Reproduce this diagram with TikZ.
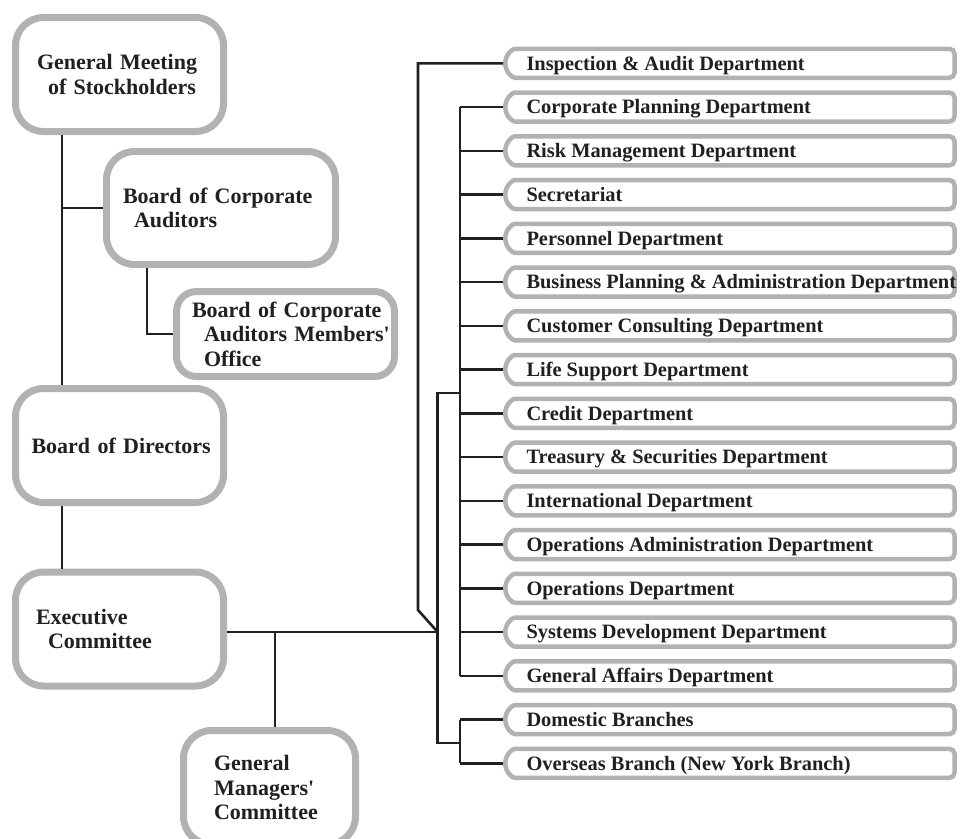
\documentclass[tikz,border=0pt]{standalone}
\usepackage{fontspec}
\setmainfont{Liberation Serif}
\usetikzlibrary{shapes.misc}
\definecolor{boxgray}{HTML}{B1B2B4}
\definecolor{inkblack}{HTML}{231F20}
\newcommand{\sq}{\XeTeXglyph\XeTeXcharglyph"27\relax}

\begin{document}
\begin{tikzpicture}[x=1pt,y=-1pt,
    unit/.style={draw=boxgray,line width=7pt,fill=white,rounded corners=28pt,align=left,
      text=inkblack,font=\fontsize{22}{24.5}\selectfont\bfseries,inner ysep=0pt},
    dept/.style={rounded rectangle,rounded rectangle right arc=none,rounded corners=5pt,
      draw=boxgray,line width=4.5pt,fill=white,minimum height=29pt,inner xsep=17pt,inner ysep=0pt,
      text height=17pt,text depth=3.5pt,text=inkblack,font=\fontsize{20.4}{22}\selectfont\bfseries,anchor=west},
    link/.style={draw=inkblack,line width=2.6pt}]
  \useasboundingbox (0,0) rectangle (960,838);

  % left column
  \node (gm) at (119.5,74.5) [unit,minimum width=208pt,minimum height=114pt,text width=165pt,inner xsep=21.5pt]
    {\mbox{General Meeting}\\\hspace*{11pt}\mbox{of Stockholders}};
  \node (bca) at (221,208) [unit,minimum width=229pt,minimum height=113pt,text width=196pt,inner xsep=16.5pt]
    {\mbox{Board of Corporate}\\\hspace*{11pt}Auditors};
  \node (bcamo) at (285.5,334) [unit,rounded corners=20pt,minimum width=218pt,minimum height=85pt,text width=187pt,inner xsep=15.5pt]
    {\mbox{Board of Corporate}\\\hspace*{12pt}\mbox{Auditors Members\sq}\\\hspace*{12pt}Office};
  \node (bod) at (119.5,445.5) [unit,minimum width=208pt,minimum height=114pt,text width=176pt,inner xsep=16pt]
    {\mbox{Board of Directors}};
  \node (ec) at (119.5,629) [unit,minimum width=208pt,minimum height=114pt,text width=167pt,inner xsep=20.5pt]
    {Executive\\\hspace*{12pt}Committee};
  \node (gmc) at (269.5,787.5) [unit,minimum width=172pt,minimum height=114pt,text width=111pt,inner xsep=30.5pt]
    {General\\Managers\sq\\Committee};

  % departments
  \foreach \t [count=\i] in {Inspection \& Audit Department,Corporate Planning Department,
      Risk Management Department,Secretariat,Personnel Department,
      Business Planning \& Administration Department,Customer Consulting Department,
      Life Support Department,Credit Department,Treasury \& Securities Department,
      International Department,Operations Administration Department,Operations Department,
      Systems Development Department,General Affairs Department,Domestic Branches,
      Overseas Branch (New York Branch)}
    \node (d\i) at (503,{63.3+43.75*(\i-1)}) [dept] {\makebox[411pt][l]{\t}};

  \coordinate (trunk) at (62,0);
  \coordinate (drop) at (147,0);
  \coordinate (hub) at (437.7,632);
  \coordinate (tap) at (275,632);
  \coordinate (kink) at (418,610);
  \coordinate (bus) at (460,0);
  \coordinate (upper) at (437.7,393);
  \coordinate (lower) at (437.7,743);

  \draw[link] (gm.south -| trunk) -- (bod.north -| trunk);
  \draw[link] (bca.west) -- (bca.west -| trunk);
  \draw[link] (bca.south -| drop) |- (bcamo.west);
  \draw[link] (bod.south -| trunk) -- (ec.north -| trunk);
  \draw[link] (hub -| ec.east) -- (hub);
  \draw[link] (tap) -- (tap |- gmc.north);

  \draw[link] (d1.west) -| (kink) -- (hub);
  \draw[link] (upper -| bus) -- (upper) -- (lower) -- (lower -| bus);
  \draw[link] (d2.west -| bus) -- (d15.west -| bus);
  \draw[link] (d16.west -| bus) -- (d17.west -| bus);
  \foreach \i in {2,...,17}
    \draw[link] (d\i.west -| bus) -- (d\i.west);
\end{tikzpicture}
\end{document}
